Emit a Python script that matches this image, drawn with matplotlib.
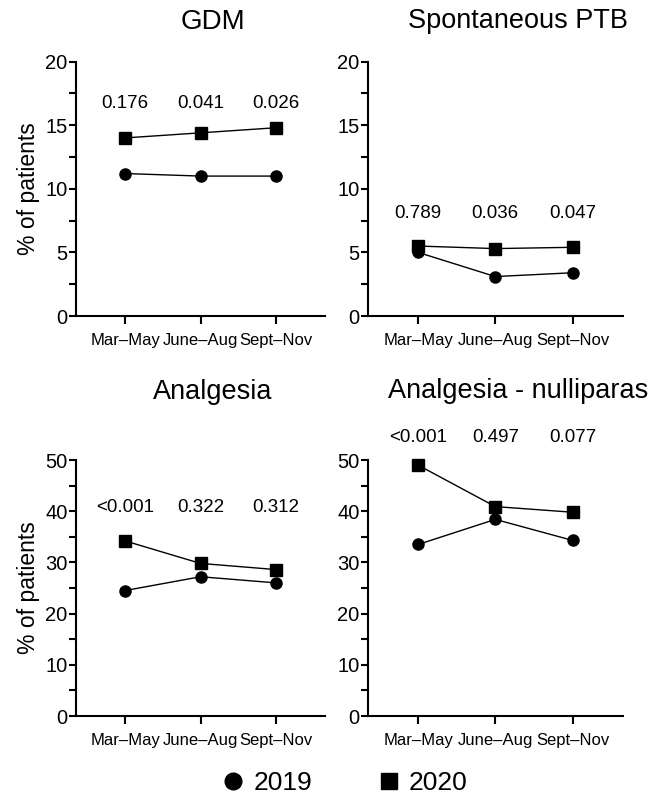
import matplotlib.pyplot as plt
from matplotlib.lines import Line2D
from matplotlib.ticker import MultipleLocator

plt.rcParams['font.family'] = ['Liberation Sans', 'DejaVu Sans']

# data
periods = ['Mar\u2013May', 'June\u2013Aug', 'Sept\u2013Nov']
titles = ['GDM', 'Spontaneous PTB', 'Analgesia', 'Analgesia - nulliparas']

gdm_2019 = [11.2, 11.0, 11.0]
gdm_2020 = [14.0, 14.4, 14.8]
ptb_2019 = [5.0, 3.1, 3.4]
ptb_2020 = [5.5, 5.3, 5.4]
anal_2019 = [24.5, 27.2, 26.0]
anal_2020 = [34.2, 29.8, 28.6]
nulli_2019 = [33.5, 38.4, 34.3]
nulli_2020 = [49.0, 40.9, 39.8]

gdm_p = ['0.176', '0.041', '0.026']
ptb_p = ['0.789', '0.036', '0.047']
anal_p = ['<0.001', '0.322', '0.312']
nulli_p = ['<0.001', '0.497', '0.077']

panels = [
    (titles[0], gdm_2019, gdm_2020, gdm_p, 20, 5, 16.0),
    (titles[1], ptb_2019, ptb_2020, ptb_p, 20, 5, 7.4),
    (titles[2], anal_2019, anal_2020, anal_p, 50, 10, 39.0),
    (titles[3], nulli_2019, nulli_2020, nulli_p, 50, 10, 52.8),
]

# axes boxes [left, bottom, width, height] in figure fraction
boxes = [
    [0.117, 0.605, 0.383, 0.318],
    [0.566, 0.605, 0.392, 0.318],
    [0.117, 0.105, 0.383, 0.320],
    [0.566, 0.105, 0.392, 0.320],
]
title_pos = [(0.328, 0.972), (0.797, 0.974), (0.328, 0.51), (0.797, 0.511)]

fig = plt.figure(figsize=(6.5, 8), dpi=100)
x = range(len(periods))

for i, (title, y19, y20, pvals, ymax, step, py) in enumerate(panels):
    ax = fig.add_axes(boxes[i])
    ax.plot(x, y19, color='black', lw=1.0, marker='o', ms=8, clip_on=False)
    ax.plot(x, y20, color='black', lw=1.0, marker='s', ms=8.5, clip_on=False)
    for xi, p in zip(x, pvals):
        ax.text(xi, py, p, ha='center', va='bottom', fontsize=13.5, clip_on=False)
    ax.set_xlim(-0.65, 2.65)
    ax.set_ylim(0, ymax)
    ax.set_xticks(list(x))
    ax.set_xticklabels(periods, fontsize=12)
    ax.yaxis.set_major_locator(MultipleLocator(step))
    ax.yaxis.set_minor_locator(MultipleLocator(step / 2))
    ax.tick_params(axis='y', labelsize=14.5, width=1.5, length=5, pad=1)
    ax.tick_params(axis='y', which='minor', width=1.5, length=5)
    ax.tick_params(axis='x', width=1.5, length=6, pad=6)
    for s in ['top', 'right']:
        ax.spines[s].set_visible(False)
    for s in ['left', 'bottom']:
        ax.spines[s].set_linewidth(1.5)
    if i % 2 == 0:
        ax.set_ylabel('% of patients', fontsize=16.5, labelpad=4)
    fig.text(title_pos[i][0], title_pos[i][1], title, ha='center', va='center',
             fontsize=19.5 if i != 0 else 20)

handles = [
    Line2D([], [], color='black', marker='o', ms=12, ls='none'),
    Line2D([], [], color='black', marker='s', ms=11.5, ls='none'),
]
fig.legend(handles, ['2019', '2020'], loc='center', bbox_to_anchor=(0.529, 0.021),
           ncol=2, frameon=False, fontsize=19, handlelength=1.0,
           handletextpad=0.27, columnspacing=2.4)

plt.savefig('out.png', dpi=100)
